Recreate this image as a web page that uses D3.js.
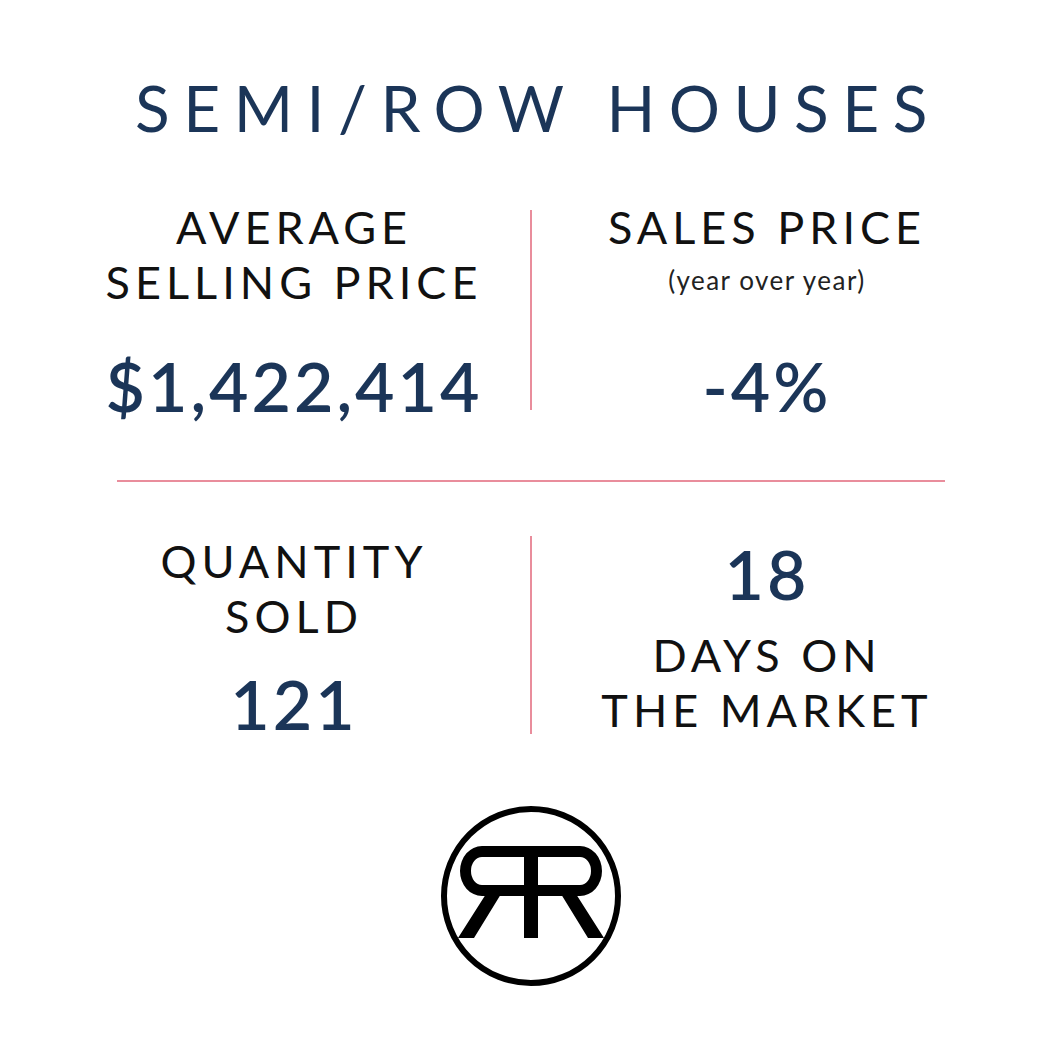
<!DOCTYPE html>
<html><head><meta charset="utf-8">
<script src="https://cdn.jsdelivr.net/npm/d3@7"></script>
<style>body{margin:0;background:#fff}svg{display:block}</style>
</head><body><svg id="c"></svg>
<script>
const title = "SEMI/ROW HOUSES";
const labels = [["AVERAGE", "SELLING PRICE"], ["SALES PRICE"], ["QUANTITY", "SOLD"], ["DAYS ON", "THE MARKET"]];
const values = ["$1,422,414", "-4%", "121", "18"];
const notes = ["", "(year over year)", "", ""];

const W = 1063, H = 1063;
const navy = "#1b3558", pink = "#e98d9c";
const svg = d3.select("#c").attr("width", W).attr("height", H);
const font = "Lato, 'Noto Sans', sans-serif";

svg.append("text").text(title).attr("x", 538).attr("y", 132)
  .attr("text-anchor", "middle").attr("font-family", font).attr("font-size", 64)
  .attr("letter-spacing", 13.5).attr("fill", navy);

// cell layout
const cx = [294, 767, 294, 767];
const labelY = [[244, 299], [244], [578, 633], [672, 727]];
const valueY = [412, 412, 730, 600];

const cells = svg.selectAll("g.cell").data(values).enter().append("g").attr("class", "cell");
cells.each(function (v, i) {
  const g = d3.select(this);
  labels[i].forEach((t, j) => {
    g.append("text").text(t).attr("x", cx[i]).attr("y", labelY[i][j])
      .attr("text-anchor", "middle").attr("font-family", font).attr("font-size", 45)
      .attr("letter-spacing", 5).attr("fill", "#111");
  });
  if (notes[i]) g.append("text").text(notes[i]).attr("x", cx[i]).attr("y", 290)
    .attr("text-anchor", "middle").attr("font-family", font).attr("font-size", 26)
    .attr("letter-spacing", 1.5).attr("fill", "#222");
  g.append("text").text(v).attr("x", cx[i]).attr("y", valueY[i])
    .attr("text-anchor", "middle").attr("font-family", font).attr("font-weight", 600)
    .attr("font-size", 68).attr("letter-spacing", 3).attr("fill", navy);
});

// dividers
svg.append("line").attr("x1", 531).attr("x2", 531).attr("y1", 210).attr("y2", 410).attr("stroke", pink).attr("stroke-width", 2);
svg.append("line").attr("x1", 531).attr("x2", 531).attr("y1", 536).attr("y2", 734).attr("stroke", pink).attr("stroke-width", 2);
svg.append("line").attr("x1", 117).attr("x2", 945).attr("y1", 481).attr("y2", 481).attr("stroke", pink).attr("stroke-width", 2);

// logo
const lg = svg.append("g");
lg.append("circle").attr("cx", 531).attr("cy", 896).attr("r", 87).attr("fill", "none").attr("stroke", "#000").attr("stroke-width", 6);
lg.append("path").attr("fill", "#000").attr("d",
  "M482,846 L580,846 A22,25 0 0 1 580,896 L538,896 L538,938 L524,938 L524,896 L482,896 A22,25 0 0 1 482,846 Z" +
  " M482,857 A11,14 0 0 0 482,885 L524,885 L524,857 Z M538,857 L538,885 L580,885 A11,14 0 0 0 580,857 Z");
lg.append("path").attr("fill", "#000").attr("d",
  "M486,894 L501,894 L474,938 L458,938 Z M561,894 L576,894 L604,938 L588,938 Z");
</script></body></html>
